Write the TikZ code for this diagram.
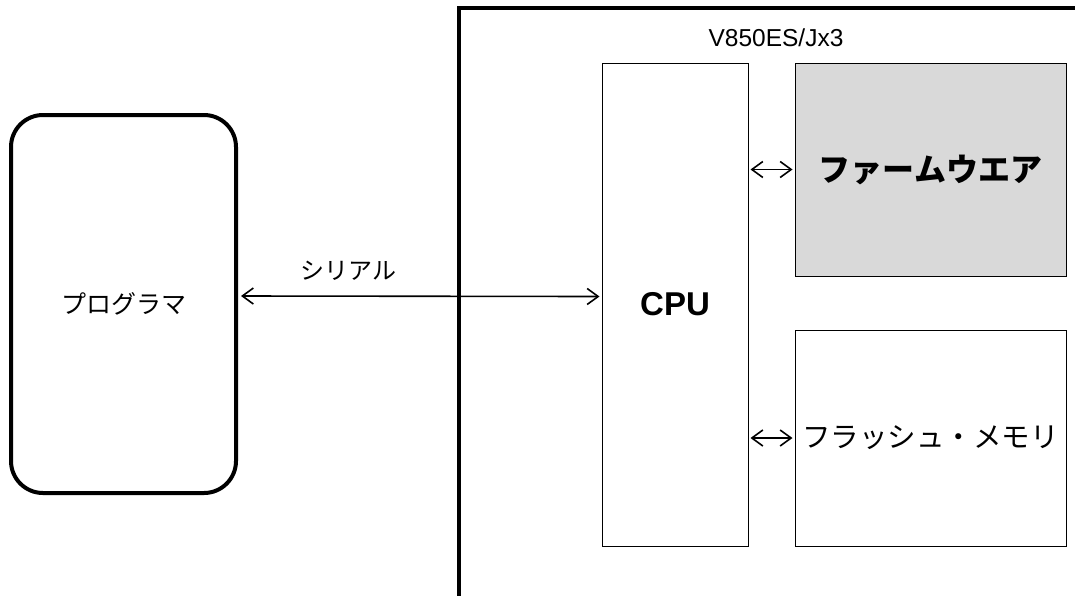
\documentclass[tikz,border=0pt]{standalone}
\usepackage{fontspec}
\setmainfont{Liberation Sans}
\newfontfamily\jp{Noto Sans CJK JP}
\usetikzlibrary{arrows.meta}
\tikzstyle{block}=[draw, line width=1pt, inner sep=0pt]
\tikzstyle{link}=[{Straight Barb[length=11pt,width=16pt]}-{Straight Barb[length=11pt,width=16pt]}, line width=1.6pt]

\begin{document}
\begin{tikzpicture}[x=1pt, y=-1pt]
\useasboundingbox (0,0) rectangle (1075,595);
% Programmer
    \node[draw, line width=4pt, rounded corners=32pt, minimum width=225pt, minimum height=378pt]
        (prog) at (123.5,304) {\jp\fontsize{25}{30}\selectfont プログラマ};
% Chip outline
    \draw[line width=4pt] (459,597) -- (459,8) -- (1077,8);
    \node (chip) at (776,38) {\fontsize{24.5}{28}\selectfont V850ES/Jx3};
% Blocks
    \node[block, minimum width=146pt, minimum height=483pt] (cpu) at (675,304.5)
        {\bfseries\fontsize{33}{38}\selectfont CPU};
    \node[block, fill=black!15, minimum width=271pt, minimum height=213pt] (fw) at (930.5,169.5)
        {\jp\bfseries\fontsize{32}{36}\selectfont ファームウエア};
    \node[block, minimum width=271pt, minimum height=216pt] (flash) at (930.5,438)
        {\jp\fontsize{28.5}{34}\selectfont フラッシュ・メモリ};
% Links
    \draw[link] ([yshift=8pt,xshift=3pt]prog.east) -- ([yshift=8pt,xshift=-2pt]cpu.west)
        node[pos=0.3, above=12pt] (serial) {\jp\fontsize{24}{28}\selectfont シリアル};
    \draw[link, shorten <=2pt, shorten >=2pt] (cpu.east |- fw.west) -- (fw.west);
    \draw[link, shorten <=2pt, shorten >=2pt] (cpu.east |- flash.west) -- (flash.west);
\end{tikzpicture}
\end{document}
